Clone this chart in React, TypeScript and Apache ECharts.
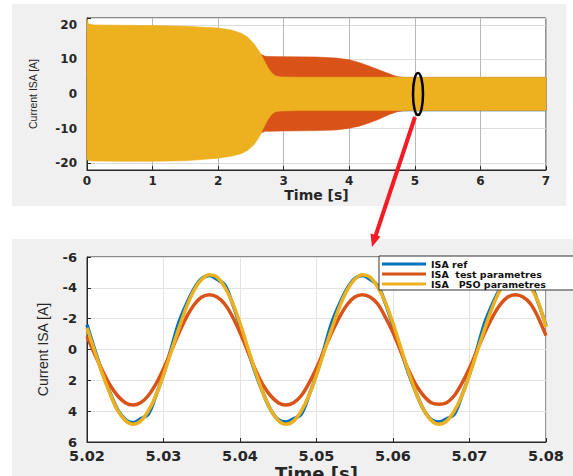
import React, { useEffect, useRef } from "react";
import * as echarts from "echarts";

// ---------- Top panel: envelopes of the dense 50 Hz current ----------
const blueEnvT = [0, 7];
const blueUpper = [4.8, 4.8];
const blueLower = [-4.9, -4.9];

const orangeEnvT = [0, 2.4, 2.55, 2.65, 2.72, 2.76, 3, 3.5, 3.8, 4.0, 4.15, 4.3, 4.45, 4.6, 4.72, 4.82, 5, 6, 7];
const orangeUpper = [18, 16.5, 13.5, 11.5, 10.9, 10.85, 10.8, 10.7, 10.4, 9.9, 9.1, 8.1, 7.0, 5.9, 5.1, 4.8, 4.7, 4.7, 4.7];
const orangeLower = [-18, -16.5, -13.5, -11.3, -10.8, -10.8, -10.7, -10.6, -10.4, -9.9, -9.3, -8.4, -7.3, -6.0, -5.2, -4.85, -4.7, -4.7, -4.7];

const yellowEnvT = [0, 0.02, 0.1, 0.5, 1, 1.5, 2, 2.2, 2.35, 2.45, 2.55, 2.63, 2.7, 2.76, 2.82, 2.88, 2.95, 3.2, 4, 5, 6, 7];
const yellowUpper = [21.8, 20.3, 20.0, 19.9, 19.8, 19.6, 19.1, 18.5, 17.6, 16.5, 14.5, 12.2, 9.8, 7.6, 6.0, 5.2, 4.95, 4.85, 4.85, 4.85, 4.85, 4.85];
const yellowLower = [-19.0, -19.3, -19.4, -19.5, -19.5, -19.3, -18.6, -18.0, -17.3, -16.3, -14.6, -12.3, -9.5, -7.3, -5.8, -5.1, -4.9, -4.8, -4.8, -4.8, -4.8, -4.8];

// ---------- Bottom panel: zoom 5.02 .. 5.08 s ----------
const tZoom = [
  5.020, 5.021, 5.022, 5.023, 5.024, 5.025, 5.026, 5.027, 5.028, 5.029,
  5.030, 5.031, 5.032, 5.033, 5.034, 5.035, 5.036, 5.037, 5.038, 5.039,
  5.040, 5.041, 5.042, 5.043, 5.044, 5.045, 5.046, 5.047, 5.048, 5.049,
  5.050, 5.051, 5.052, 5.053, 5.054, 5.055, 5.056, 5.057, 5.058, 5.059,
  5.060, 5.061, 5.062, 5.063, 5.064, 5.065, 5.066, 5.067, 5.068, 5.069,
  5.070, 5.071, 5.072, 5.073, 5.074, 5.075, 5.076, 5.077, 5.078, 5.079,
  5.080,
];
const isaRef = [
  -1.6, 0.0, 1.5, 2.8, 3.9, 4.55, 4.75, 4.5, 4.2, 3.0,
  1.6, -0.05, -1.75, -2.95, -3.95, -4.6, -4.8, -4.55, -4.2, -3.0,
  -1.55, 0.0, 1.5, 2.8, 3.9, 4.55, 4.7, 4.5, 4.2, 3.0,
  1.6, -0.05, -1.75, -2.95, -3.95, -4.6, -4.8, -4.55, -4.15, -3.0,
  -1.55, 0.0, 1.5, 2.8, 3.9, 4.55, 4.7, 4.5, 4.2, 3.0,
  1.6, -0.05, -1.75, -2.95, -3.95, -4.6, -4.8, -4.55, -4.2, -3.0,
  -1.55,
];
const isaTest = [
  -0.85, 0.3, 1.35, 2.3, 3.0, 3.45, 3.6, 3.45, 3.0, 2.25,
  1.25, 0.1, -1.05, -2.1, -2.9, -3.4, -3.55, -3.4, -2.95, -2.15,
  -1.1, 0.1, 1.3, 2.3, 3.0, 3.45, 3.6, 3.45, 3.0, 2.2,
  1.2, 0.05, -1.1, -2.1, -2.9, -3.4, -3.55, -3.4, -2.95, -2.1,
  -1.1, 0.1, 1.3, 2.3, 3.0, 3.45, 3.55, 3.45, 3.0, 2.2,
  1.2, 0.05, -1.1, -2.1, -2.9, -3.4, -3.55, -3.4, -2.95, -2.05,
  -0.9,
];
const isaPso = [
  -1.4, 0.1, 1.55, 2.85, 3.95, 4.6, 4.85, 4.65, 4.0, 3.0,
  1.65, 0.15, -1.35, -2.75, -3.85, -4.55, -4.85, -4.7, -4.05, -3.05,
  -1.7, -0.15, 1.4, 2.8, 3.9, 4.6, 4.85, 4.65, 4.0, 3.0,
  1.65, 0.15, -1.35, -2.75, -3.85, -4.55, -4.85, -4.7, -4.05, -3.05,
  -1.7, -0.15, 1.4, 2.8, 3.9, 4.6, 4.85, 4.65, 4.0, 3.0,
  1.65, 0.15, -1.35, -2.75, -3.85, -4.55, -4.85, -4.7, -4.05, -3.05,
  -1.45,
];
const legendNames = ["ISA ref", "ISA  test parametres", "ISA   PSO parametres"];

const C_BLUE = "#0072BD";
const C_ORANGE = "#D95319";
const C_YELLOW = "#EDB120";
const AX = "#262626";
const BOLD_FONT = "'DejaVu Sans', 'Liberation Sans', Arial, sans-serif";
const NAME_FONT = "'Liberation Sans', Arial, sans-serif";

function band(name: string, times: number[], upper: number[], lower: number[], color: string) {
  return {
    type: "custom",
    name,
    xAxisIndex: 0,
    yAxisIndex: 0,
    silent: true,
    data: [[times[0], 0]],
    renderItem: (params: any, api: any) => {
      if (params.dataIndex !== 0) return null;
      const pts: number[][] = [];
      for (let i = 0; i < times.length; i++) pts.push(api.coord([times[i], upper[i]]));
      for (let i = times.length - 1; i >= 0; i--) pts.push(api.coord([times[i], lower[i]]));
      return {
        type: "polygon",
        shape: { points: pts },
        style: { fill: color, stroke: color, lineWidth: 0.6 },
      };
    },
  };
}

function zoomLine(name: string, values: number[], color: string) {
  return {
    type: "line",
    name,
    xAxisIndex: 1,
    yAxisIndex: 1,
    data: tZoom.map((t, i) => [t, values[i]]),
    showSymbol: false,
    smooth: 0.35,
    lineStyle: { color, width: 3.5 },
    itemStyle: { color },
  };
}

const axisCommon = (fontSize: number) => ({
  axisLine: { show: true, onZero: false, lineStyle: { color: AX, width: 1 } },
  axisTick: { show: true, inside: true, length: 4, lineStyle: { color: AX } },
  axisLabel: { color: AX, fontSize, fontWeight: "bold", fontFamily: BOLD_FONT },
});

export default function App() {
  const ref = useRef<HTMLDivElement>(null);
  useEffect(() => {
    const chart = echarts.init(ref.current!, null, { renderer: "svg" });
    const ac12 = axisCommon(12);
    const ac15 = axisCommon(14.5);
    const ac14 = axisCommon(13);
    chart.setOption({
      animation: false,
      grid: [
        { left: 87, top: 18, width: 459, height: 152, show: true, backgroundColor: "#fff", borderColor: AX, borderWidth: 1, outerBoundsMode: "none", containLabel: false },
        { left: 87, top: 257, width: 459, height: 185, show: true, backgroundColor: "#fff", borderColor: AX, borderWidth: 1, outerBoundsMode: "none", containLabel: false },
      ],
      xAxis: [
        {
          gridIndex: 0, type: "value", min: 0, max: 7, interval: 1,
          ...ac12,
          axisLabel: { ...ac12.axisLabel, margin: 5 },
          splitLine: { show: true, lineStyle: { color: "#b8b8b8", width: 1 } },
          name: "Time [s]", nameLocation: "middle", nameGap: 14,
          nameTextStyle: { fontSize: 14, fontWeight: "bold", fontFamily: BOLD_FONT, color: AX },
        },
        {
          gridIndex: 1, type: "value", min: 5.02, max: 5.08, interval: 0.01,
          ...ac15,
          axisLabel: { ...ac15.axisLabel, margin: 8, lineHeight: 12, formatter: (v: number) => v.toFixed(2) },
          splitLine: { show: true, lineStyle: { color: "#e3e3e3", width: 1 } },
          name: "Time [s]", nameLocation: "middle", nameGap: 21,
          nameTextStyle: { fontSize: 18, fontWeight: "bold", fontFamily: BOLD_FONT, color: AX },
        },
      ],
      yAxis: [
        {
          gridIndex: 0, type: "value", min: -22, max: 22, splitNumber: 4,
          ...ac12,
          axisLabel: {
            ...ac12.axisLabel, margin: 10,
            formatter: (v: number) => (Math.abs(v % 10) < 1e-9 ? String(v) : ""),
          },
          splitLine: { show: true, lineStyle: { color: "#dcdcdc", width: 1 } },
          name: "Current ISA [A]", nameLocation: "middle", nameGap: 49, nameRotate: 90,
          nameTextStyle: { fontSize: 10.5, fontFamily: NAME_FONT, color: AX },
        },
        {
          gridIndex: 1, type: "value", min: -6, max: 6, interval: 2, inverse: true,
          ...ac14,
          axisLabel: { ...ac14.axisLabel, margin: 10, lineHeight: 11 },
          splitLine: { show: true, lineStyle: { color: "#e3e3e3", width: 1 } },
          name: "Current ISA [A]", nameLocation: "middle", nameGap: 37, nameRotate: 90,
          nameTextStyle: { fontSize: 14, fontFamily: NAME_FONT, color: AX },
        },
      ],
      legend: {
        data: legendNames,
        left: 379,
        top: 256,
        orient: "vertical",
        icon: "rect",
        itemWidth: 44,
        itemHeight: 3,
        itemGap: 0,
        padding: [3, 40, 1, 3],
        backgroundColor: "#fff",
        borderColor: "#333",
        borderWidth: 1,
        selectedMode: false,
        textStyle: { fontSize: 9.5, fontWeight: "bold", fontFamily: BOLD_FONT, color: "#111", lineHeight: 10 },
      },
      series: [
        band("ref band", blueEnvT, blueUpper, blueLower, C_BLUE),
        band("test band", orangeEnvT, orangeUpper, orangeLower, C_ORANGE),
        band("pso band", yellowEnvT, yellowUpper, yellowLower, C_YELLOW),
        zoomLine(legendNames[0], isaRef, C_BLUE),
        zoomLine(legendNames[1], isaTest, C_ORANGE),
        zoomLine(legendNames[2], isaPso, C_YELLOW),
      ],
      graphic: [
        {
          type: "ellipse", z: 100,
          shape: { cx: 418, cy: 94, rx: 5, ry: 21 },
          style: { fill: "none", stroke: "#000", lineWidth: 2.5 },
        },
        {
          type: "line", z: 100,
          shape: { x1: 415, y1: 117, x2: 375.5, y2: 236 },
          style: { stroke: "#f41b24", lineWidth: 4 },
        },
        {
          type: "polygon", z: 100,
          shape: { points: [[372, 247], [380.5, 236.5], [370.5, 233.5]] },
          style: { fill: "#f41b24" },
        },
      ],
    });
    return () => chart.dispose();
  }, []);

  return (
    <div style={{ position: "absolute", left: 0, top: 0, width: 573, height: 476, background: "#fff", overflow: "hidden" }}>
      <div style={{ position: "absolute", left: 12, top: 4, width: 554, height: 202, background: "#f0f0f0" }} />
      <div style={{ position: "absolute", left: 12, top: 239, width: 561, height: 237, background: "#f0f0f0" }} />
      <div ref={ref} style={{ position: "absolute", left: 0, top: 0, width: 573, height: 476 }} />
    </div>
  );
}
